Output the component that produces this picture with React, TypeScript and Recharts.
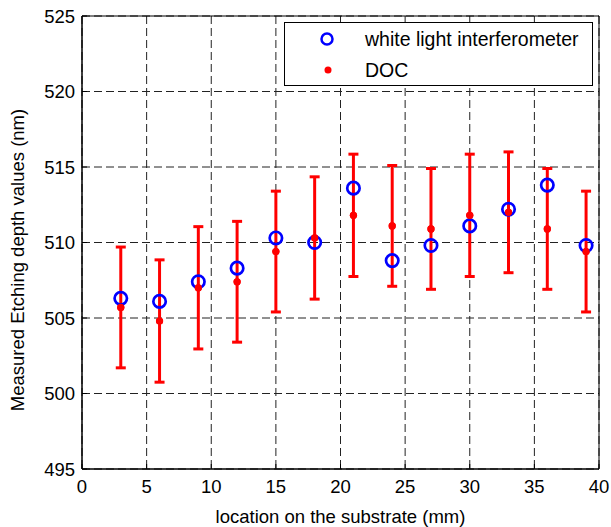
import React from "react";
import {
  ComposedChart,
  Scatter,
  ErrorBar,
  XAxis,
  YAxis,
  CartesianGrid,
  ReferenceArea,
  Label,
} from "recharts";

// positions along the substrate (mm)
const locations = [3, 6, 9, 12, 15, 18, 21, 24, 27, 30, 33, 36, 39];
// white light interferometer readings (nm)
const wliDepth = [506.3, 506.1, 507.4, 508.3, 510.3, 510.0, 513.6, 508.8, 509.8, 511.1, 512.2, 513.8, 509.8];
// DOC readings (nm) and their +/- spread
const docDepth = [505.7, 504.8, 507.0, 507.4, 509.4, 510.3, 511.8, 511.1, 510.9, 511.8, 512.0, 510.9, 509.4];
const docError = [4.0, 4.05, 4.05, 4.0, 4.0, 4.05, 4.05, 4.0, 4.0, 4.05, 4.0, 4.0, 4.0];

const xTicks = [0, 5, 10, 15, 20, 25, 30, 35, 40];
const yTicks = [495, 500, 505, 510, 515, 520, 525];

const wliRows = locations.map((x, i) => ({ x, y: wliDepth[i] }));
const docRows = locations.map((x, i) => ({ x, y: docDepth[i], err: docError[i] }));

const FONT = "'Liberation Sans', Arial, Helvetica, sans-serif";
const FS = 18.5;
const tickStyle = { fontSize: FS, fill: "#000", fontFamily: FONT };

const OpenCircle = (p: any) => (
  <circle cx={p.cx} cy={p.cy} r={6.2} fill="none" stroke="#0000ff" strokeWidth={2.7} />
);
const Dot = (p: any) => <circle cx={p.cx} cy={p.cy} r={3.6} fill="#ff0000" />;

function LegendBox() {
  return (
    <svg
      width={309}
      height={64}
      style={{ position: "absolute", left: 284, top: 22, background: "#fff" }}
    >
      <rect x={0.5} y={0.5} width={308} height={63} fill="#fff" stroke="#000" />
      <circle cx={43} cy={17} r={5.5} fill="none" stroke="#0000ff" strokeWidth={2.5} />
      <circle cx={44} cy={48} r={3.5} fill="#ff0000" />
      <text x={81} y={24} fontSize={19.5} fontFamily={FONT}>white light interferometer</text>
      <text x={81} y={55} fontSize={19.5} fontFamily={FONT}>DOC</text>
    </svg>
  );
}

export default function App() {
  return (
    <div style={{ position: "absolute", left: 0, top: 0, width: 611, height: 527, background: "#fff" }}>
      <ComposedChart
        width={611}
        height={527}
        margin={{ top: 16, right: 12, left: 0, bottom: 0 }}
      >
        <CartesianGrid stroke="#222" strokeDasharray="8 4" strokeWidth={1} />
        <XAxis
          type="number"
          dataKey="x"
          domain={[0, 40]}
          ticks={xTicks}
          interval={0}
          height={58}
          tick={tickStyle}
          tickSize={-5}
          tickMargin={16}
          stroke="#000"
          allowDataOverflow
        >
          <Label
            value="location on the substrate (mm)"
            position="insideBottom"
            offset={4}
            style={{ fontSize: FS, fill: "#000", fontFamily: FONT }}
          />
        </XAxis>
        {/* mirrored axes: inward tick marks along the top and right edges */}
        <XAxis
          xAxisId="top"
          orientation="top"
          type="number"
          domain={[0, 40]}
          ticks={xTicks}
          interval={0}
          height={0}
          tick={false}
          tickSize={-5}
          stroke="#000"
          allowDataOverflow
        />
        <YAxis
          type="number"
          dataKey="y"
          domain={[495, 525]}
          ticks={yTicks}
          interval={0}
          width={82}
          tick={tickStyle}
          tickSize={-5}
          tickMargin={12}
          stroke="#000"
          allowDataOverflow
        >
          <Label
            content={() => (
              <text
                x={17}
                y={260}
                transform="rotate(-90 17 260)"
                textAnchor="middle"
                dominantBaseline="central"
                fontSize={FS}
                fontFamily={FONT}
                fill="#000"
              >
                Measured Etching depth values (nm)
              </text>
            )}
          />
        </YAxis>
        <YAxis
          yAxisId="right"
          orientation="right"
          type="number"
          domain={[495, 525]}
          ticks={yTicks}
          interval={0}
          width={0}
          tick={false}
          tickSize={-5}
          stroke="#000"
          allowDataOverflow
        />
        <ReferenceArea x1={0} x2={40} y1={495} y2={525} fill="none" stroke="#000" strokeWidth={1} ifOverflow="visible" />
        <Scatter data={docRows} shape={<Dot />} isAnimationActive={false}>
          <ErrorBar dataKey="err" direction="y" width={5} strokeWidth={3} stroke="#ff0000" isAnimationActive={false} />
        </Scatter>
        <Scatter data={wliRows} shape={<OpenCircle />} isAnimationActive={false} />
        <Scatter data={docRows} shape={<Dot />} isAnimationActive={false} />
      </ComposedChart>
      <LegendBox />
    </div>
  );
}
